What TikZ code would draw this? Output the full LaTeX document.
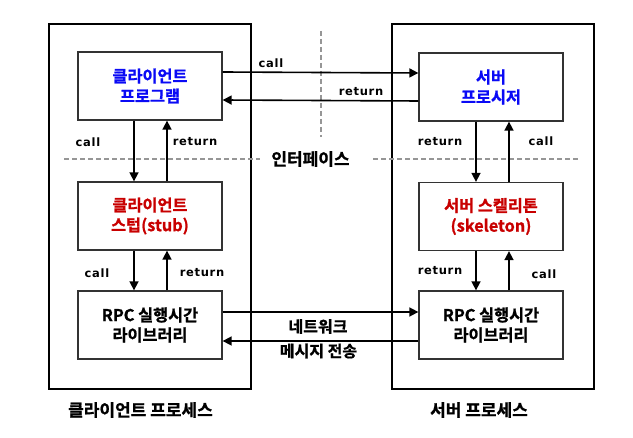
\documentclass[tikz,border=0pt]{standalone}
\usepackage{fontspec}
\setmainfont{Noto Sans CJK KR}[BoldFont={* Bold},BoldFeatures={FakeBold=1}]
\newfontfamily\lblfont{DejaVu Sans}[LetterSpace=6]
\usetikzlibrary{arrows.meta}
\definecolor{progblue}{RGB}{10,10,245}
\definecolor{stubred}{RGB}{200,0,0}
\definecolor{dashgray}{RGB}{150,150,150}
\tikzset{
  outerbox/.style={draw=black,line width=2pt,minimum width=202pt,minimum height=365pt,inner sep=0pt},
  innerbox/.style={draw=black!80,line width=1.3pt,minimum width=144pt,minimum height=68pt,align=center,font=\fontsize{16.3}{20}\selectfont\bfseries},
  arr/.style={line width=1.6pt,-{Triangle[length=9pt,width=9pt]}},
  lbl/.style={font=\lblfont\bfseries\fontsize{11.5}{13}\selectfont,inner sep=0pt},
  ktext/.style={font=\fontsize{17}{20}\selectfont\bfseries,inner sep=0pt,align=center},
  nettext/.style={font=\fontsize{16}{20}\selectfont\bfseries,inner sep=0pt,align=center},
  dashline/.style={draw=dashgray,line width=1.5pt,dash pattern=on 5pt off 3pt},
}
\begin{document}
\begin{tikzpicture}[x=1pt,y=-1pt]
\useasboundingbox (0,0) rectangle (633,438);
\node[outerbox] (lo) at (150,206.5) {};
\node[outerbox] (ro) at (493,207) {};
\node[innerbox,text=progblue] (cp) at (150,86) {클라이언트\\프로그램};
\node[innerbox,text=progblue] (sp) at (491,87) {서버\\프로시저};
\node[innerbox,text=stubred] (cs) at (150,216) {클라이언트\\스텁(stub)};
\node[innerbox,text=stubred] (ss) at (491,216.5) {서버 스켈리톤\\(skeleton)};
\node[innerbox] (rl) at (150,325) {RPC 실행시간\\라이브러리};
\node[innerbox] (rr) at (491,325) {RPC 실행시간\\라이브러리};
% dashed lines
\coordinate (vd1) at (321,31);
\coordinate (vd2) at (321,137);
\coordinate (hl1) at (64,159);
\coordinate (hl2) at (260,159);
\coordinate (hr1) at (373,159);
\coordinate (hr2) at (578,159);
\draw[dashline] (vd1) -- (vd2);
\draw[dashline] (hl1) -- (hl2);
\draw[dashline] (hr1) -- (hr2);
\node[ktext] (intf) at (310.5,159) {인터페이스};
% top horizontal arrows
\draw[arr] ([yshift=14pt]cp.east) -- ([yshift=14pt]sp.west);
\draw[arr] ([yshift=-14pt]sp.west) -- ([yshift=-14pt]cp.east);
\node[lbl] (l1) at (271,63) {call};
\node[lbl] (l2) at (361,92) {return};
% left vertical arrows
\draw[arr] ([xshift=-16pt]cp.south) -- ([xshift=-16pt]cs.north);
\draw[arr] ([xshift=17pt]cs.north) -- ([xshift=17pt]cp.south);
\node[lbl] (l3) at (88,142) {call};
\node[lbl] (l4) at (195,142) {return};
\draw[arr] ([xshift=-16pt]cs.south) -- ([xshift=-16pt]rl.north);
\draw[arr] ([xshift=17pt]rl.north) -- ([xshift=17pt]cs.south);
\node[lbl] (l5) at (97,273) {call};
\node[lbl] (l6) at (202,273) {return};
% right vertical arrows
\draw[arr] ([xshift=-15pt]sp.south) -- ([xshift=-15pt]ss.north);
\draw[arr] ([xshift=18pt]ss.north) -- ([xshift=18pt]sp.south);
\node[lbl] (l7) at (440,142) {return};
\node[lbl] (l8) at (541,141) {call};
\draw[arr] ([xshift=-15pt]ss.south) -- ([xshift=-15pt]rr.north);
\draw[arr] ([xshift=18pt]rr.north) -- ([xshift=18pt]ss.south);
\node[lbl] (l9) at (440,271) {return};
\node[lbl] (l10) at (544,274) {call};
% network arrows
\draw[arr] ([yshift=13pt]rl.east) -- ([yshift=13pt]rr.west);
\draw[arr] ([yshift=-16pt]rr.west) -- ([yshift=-16pt]rl.east);
\node[nettext] (n1) at (318,326.5) {네트워크};
\node[nettext] (n2) at (318.5,351) {메시지 전송};
% bottom captions
\node[ktext] (c1) at (140.5,410) {클라이언트 프로세스};
\node[ktext] (c2) at (479,410) {서버 프로세스};
\end{tikzpicture}
\end{document}
